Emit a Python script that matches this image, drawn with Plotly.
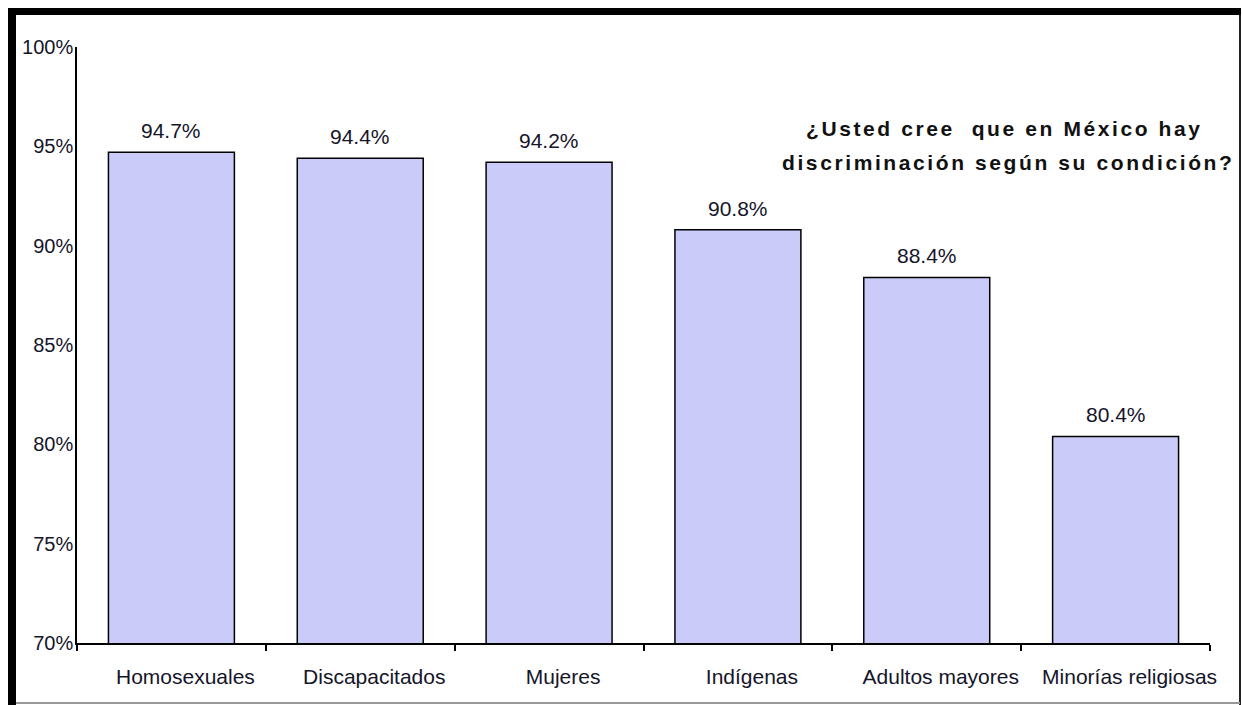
import plotly.graph_objects as go

categories = ["Homosexuales", "Discapacitados", "Mujeres", "Indígenas",
              "Adultos mayores", "Minorías religiosas"]
values = [94.7, 94.4, 94.2, 90.8, 88.4, 80.4]
y_ticks = [70, 75, 80, 85, 90, 95, 100]
y_tick_text = [f"{v}%" for v in y_ticks]
title_lines = ["¿Usted cree  que en México hay", "discriminación según su condición?"]

W, H = 1242, 705
ML, MR, MT, MB = 77, 32, 47, 62
PW, PH = W - ML - MR, H - MT - MB


def px(x):
    return (x - ML) / PW


def py(y):
    return (H - MB - y) / PH


FONT = "Liberation Sans, Arial, sans-serif"
TXT = "#15152a"

fig = go.Figure()
fig.add_trace(go.Bar(
    x=categories, y=values,
    marker=dict(color="#cbcbf9", line=dict(color="#000000", width=1.5)),
    hoverinfo="x+y",
))

shapes = [
    dict(type="rect", xref="paper", yref="paper", x0=px(8), x1=px(16), y0=py(705), y1=py(8),
         fillcolor="#000", line=dict(width=0), layer="above"),
    dict(type="rect", xref="paper", yref="paper", x0=px(8), x1=px(1241), y0=py(15), y1=py(8),
         fillcolor="#000", line=dict(width=0), layer="above"),
    dict(type="line", xref="paper", yref="paper", x0=px(1240), x1=px(1240), y0=py(705), y1=py(15),
         line=dict(color="#222", width=2), layer="above"),
    dict(type="line", xref="paper", yref="paper", x0=px(16), x1=px(1240), y0=py(703), y1=py(703),
         line=dict(color="#999", width=2), layer="above"),
]

annotations = []
for c, v in zip(categories, values):
    annotations.append(dict(
        text=f"{v:.1f}%", x=c, y=v, xref="x", yref="y",
        xanchor="center", yanchor="bottom", yshift=8, showarrow=False,
        font=dict(family=FONT, size=21, color=TXT),
    ))

for line, cx, cy in zip(title_lines, [1004, 1008], [128, 162]):
    annotations.append(dict(
        text=f'<span style="letter-spacing:2.6px"><b>{line}</b></span>',
        xref="paper", yref="paper", x=px(cx), y=py(cy),
        xanchor="center", yanchor="middle", showarrow=False,
        font=dict(family=FONT, size=21, color="#111"),
    ))

fig.update_layout(
    width=W, height=H,
    margin=dict(l=ML, r=MR, t=MT, b=MB),
    paper_bgcolor="white", plot_bgcolor="white",
    bargap=0.333,
    showlegend=False,
    shapes=shapes,
    annotations=annotations,
    font=dict(family=FONT, size=20, color=TXT),
)
fig.update_xaxes(
    showline=True, linecolor="#000", linewidth=1.5,
    ticks="outside", tickson="boundaries", ticklen=6, tickcolor="#000", tickwidth=1.5,
    showgrid=False, tickfont=dict(family=FONT, size=21, color=TXT),
    ticklabelstandoff=14, ticklabelshift=14,
)
fig.update_yaxes(
    range=[70, 100], tickvals=y_ticks, ticktext=y_tick_text,
    showline=True, linecolor="#000", linewidth=1.5,
    ticks="", showgrid=False, zeroline=False,
    tickfont=dict(family=FONT, size=20, color=TXT),
    ticklabelstandoff=-2,
)

fig.write_html(
    "out.html",
    config={"displayModeBar": False},
    post_script="document.body.style.margin='0';document.body.style.overflow='hidden';",
)
